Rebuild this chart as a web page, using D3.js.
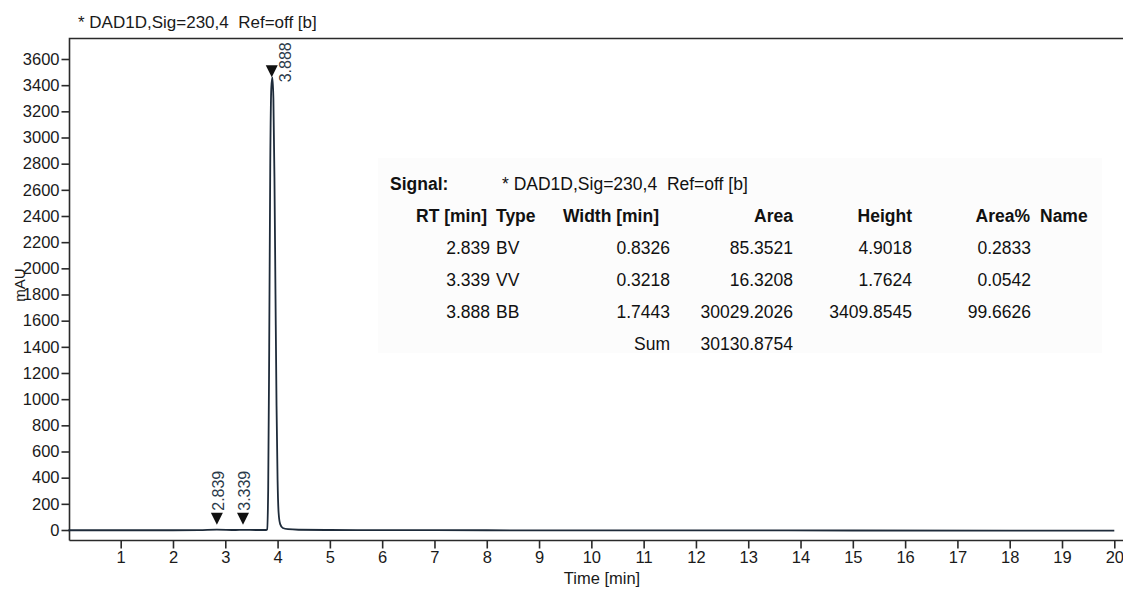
<!DOCTYPE html>
<html>
<head>
<meta charset="utf-8">
<script src="https://cdn.jsdelivr.net/npm/d3@7"></script>
<style>
  body { margin: 0; background: #fff; }
  svg { display: block; font-family: "Liberation Sans", Arial, sans-serif; }
  .axis text { font-size: 16.5px; fill: #1a1a1a; }
  .axis path, .axis line { stroke: #2a2a2a; stroke-width: 1.6; }
  .tbl { font-size: 17.5px; fill: #111; }
  .tbl.bold { font-weight: bold; }
</style>
</head>
<body>
<svg id="chart"></svg>
<script>
// SVG size params
var width = 1123;
var height = 590;

// Chromatogram trace (time in min, signal in mAU)
var traceTime = [0, 1, 2, 2.5, 2.84, 3.2, 3.34, 3.6, 3.78, 3.80, 3.82, 3.84, 3.86, 3.88, 3.90, 3.92, 3.94, 3.96, 3.98, 4.00, 4.02, 4.05, 4.10, 4.20, 4.40, 5, 6, 8, 10, 12, 15, 18, 20];
var traceSignal = [-2, -2, -2, -1, 3, 0, 1, 0, 0, 5, 300, 1400, 2800, 3380, 3460, 3300, 2700, 1800, 950, 380, 130, 45, 15, 6, 2, 0, -1, -2, -3, -3, -4, -5, -5];

// Peak labels
var peakRT = [2.839, 3.339, 3.888];
var peakMarkY = [40, 40, 3460];

// Axis ticks
var xTicks = d3.range(1, 21);
var yTicks = d3.range(0, 3601, 200);

// Integration table
var tblHeaders = ["RT [min]", "Type", "Width [min]", "Area", "Height", "Area%", "Name"];
var rtVals = ["2.839", "3.339", "3.888"];
var typeVals = ["BV", "VV", "BB"];
var widthVals = ["0.8326", "0.3218", "1.7443"];
var areaVals = ["85.3521", "16.3208", "30029.2026"];
var heightVals = ["4.9018", "1.7624", "3409.8545"];
var areaPctVals = ["0.2833", "0.0542", "99.6626"];
var areaSum = "30130.8754";
var signalName = "* DAD1D,Sig=230,4  Ref=off [b]";

var svg = d3.select("#chart")
            .attr("width", width)
            .attr("height", height);

// Plot frame
var frameLeft = 69.5, frameTop = 38.5, frameBottom = 540.5;

var x = d3.scaleLinear().domain([0, 20]).range([68.4, 1114.3]);
var y = d3.scaleLinear().domain([0, 3600]).range([530, 59]);

// Title
svg.append("text")
    .attr("x", 78)
    .attr("y", 28)
    .style("font-size", "17px")
    .style("fill", "#1a1a1a")
    .attr("xml:space", "preserve")
    .text(signalName);

// Table background
svg.append("rect")
    .attr("x", 378).attr("y", 158)
    .attr("width", 724).attr("height", 195)
    .attr("fill", "#fcfcfc");

// Y axis
svg.append("g")
    .attr("class", "axis")
    .attr("transform", "translate(" + frameLeft + ",0)")
    .call(d3.axisLeft(y).tickValues(yTicks).tickSize(8).tickPadding(2).tickFormat(d3.format("d")))
    .call(g => g.select(".domain").remove());

// X axis
svg.append("g")
    .attr("class", "axis")
    .attr("transform", "translate(0," + frameBottom + ")")
    .call(d3.axisBottom(x).tickValues(xTicks).tickSize(8).tickPadding(3).tickFormat(d3.format("d")))
    .call(g => g.select(".domain").remove());

// Frame lines
svg.append("path")
    .attr("d", "M" + frameLeft + "," + frameBottom + "V" + frameTop + "H" + (width + 5))
    .attr("fill", "none")
    .attr("stroke", "#2a2a2a")
    .attr("stroke-width", 1.6);
svg.append("line")
    .attr("x1", frameLeft).attr("x2", width + 5)
    .attr("y1", frameBottom).attr("y2", frameBottom)
    .attr("stroke", "#2a2a2a")
    .attr("stroke-width", 1.6);

// Axis titles
svg.append("text")
    .attr("transform", "translate(25,285) rotate(-90)")
    .attr("text-anchor", "middle")
    .style("font-size", "15px")
    .style("fill", "#1a1a1a")
    .text("mAU");

svg.append("text")
    .attr("x", 602)
    .attr("y", 584)
    .attr("text-anchor", "middle")
    .style("font-size", "16.5px")
    .style("fill", "#1a1a1a")
    .text("Time [min]");

// Trace
var line = d3.line()
    .x((d, i) => x(traceTime[i]))
    .y(d => y(d))
    .curve(d3.curveMonotoneX);

svg.append("path")
    .datum(traceSignal)
    .attr("d", line)
    .attr("fill", "none")
    .attr("stroke", "#1e2b3a")
    .attr("stroke-width", 1.8);

// Peak markers
var marks = svg.append("g").attr("id", "peaks");
peakRT.forEach(function(rt, i) {
  var px = x(rt), py = y(peakMarkY[i]);
  marks.append("path")
      .attr("d", "M" + (px - 6) + "," + (py - 12) + "H" + (px + 6) + "L" + px + "," + py + "Z")
      .attr("fill", "#111");
  var big = i == peakRT.length - 1;
  var tx = big ? px + 19 : px + 7;
  var ty = big ? py + 5 : py - 14;
  marks.append("text")
      .attr("transform", "translate(" + tx + "," + ty + ") rotate(-90)")
      .style("font-size", "16px")
      .style("fill", "#2b3a4a")
      .text(rt.toFixed(3));
});

// Table
var tbl = svg.append("g").attr("id", "table");
tbl.append("text").attr("class", "tbl bold").attr("x", 390).attr("y", 190).text("Signal:");
tbl.append("text").attr("class", "tbl").attr("x", 502).attr("y", 190)
    .attr("xml:space", "preserve").text(signalName);

// column right edges (or left for Type / Name)
var colX = [487, 496, 659, 793, 912, 1030, 1040];
var colAnchor = ["end", "start", "end", "end", "end", "end", "start"];
tblHeaders.forEach(function(h, i) {
  tbl.append("text").attr("class", "tbl bold")
      .attr("x", colX[i]).attr("y", 222)
      .attr("text-anchor", colAnchor[i])
      .text(h);
});

var valX = [490, 496, 670, 793, 912, 1031];
var rows = [rtVals, typeVals, widthVals, areaVals, heightVals, areaPctVals];
rows.forEach(function(col, c) {
  col.forEach(function(v, r) {
    tbl.append("text").attr("class", "tbl")
        .attr("x", valX[c]).attr("y", 254 + r * 32)
        .attr("text-anchor", colAnchor[c])
        .text(v);
  });
});
tbl.append("text").attr("class", "tbl").attr("x", 670).attr("y", 350).attr("text-anchor", "end").text("Sum");
tbl.append("text").attr("class", "tbl").attr("x", 793).attr("y", 350).attr("text-anchor", "end").text(areaSum);
</script>
</body>
</html>
